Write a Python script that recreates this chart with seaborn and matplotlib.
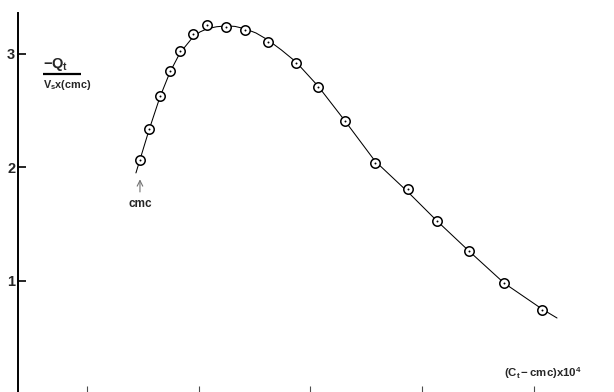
import matplotlib
matplotlib.use("Agg")
import matplotlib.pyplot as plt
import seaborn as sns
import pandas as pd

# Measured points: heat of dilution per unit volume vs. excess concentration
conc = [1.474, 1.555, 1.653, 1.743, 1.832, 1.949, 2.074, 2.244, 2.414, 2.620,
        2.870, 3.067, 3.309, 3.577, 3.872, 4.132, 4.418, 4.732, 5.072]
heat = [2.066, 2.339, 2.630, 2.850, 3.026, 3.176, 3.256, 3.238, 3.211, 3.106,
        2.921, 2.709, 2.410, 2.040, 1.811, 1.529, 1.264, 0.982, 0.744]

# Hand-drawn smooth curve through the data
curve_x = [1.438, 1.555, 1.653, 1.743, 1.832, 1.949, 2.011, 2.074, 2.160, 2.244,
           2.324, 2.414, 2.512, 2.620, 2.740, 2.870, 3.067, 3.309, 3.577, 3.872,
           4.132, 4.418, 4.732, 5.072, 5.206]
curve_y = [1.952, 2.330, 2.621, 2.841, 3.009, 3.150, 3.194, 3.222, 3.240, 3.247,
           3.243, 3.222, 3.185, 3.123, 3.035, 2.930, 2.718, 2.410, 2.057, 1.784,
           1.529, 1.264, 0.982, 0.753, 0.674]

ytick_vals = [1, 2, 3]
ytick_labels = ["1", "2", "3"]
xtick_vals = [1, 2, 3, 4, 5]

sns.set_style("white")
plt.rcParams["font.family"] = ["Liberation Sans", "DejaVu Sans"]
plt.rcParams["mathtext.fontset"] = "custom"
plt.rcParams["mathtext.rm"] = "Liberation Sans:bold"
plt.rcParams["mathtext.it"] = "Liberation Sans:bold"
plt.rcParams["mathtext.bf"] = "Liberation Sans:bold"

fig = plt.figure(figsize=(6.14, 3.92), dpi=100)
ax = fig.add_axes([18 / 614, 0.0, 596 / 614, 379 / 392])

pts = pd.DataFrame({"conc": conc, "heat": heat})
line = pd.DataFrame({"x": curve_x, "y": curve_y})

sns.lineplot(data=line, x="x", y="y", sort=False, color="black", lw=0.75, ax=ax)
sns.scatterplot(data=pts, x="conc", y="heat", s=46, facecolor="white",
                edgecolor="black", linewidth=1.1, zorder=3, ax=ax)
sns.scatterplot(data=pts, x="conc", y="heat", s=2, color="black",
                linewidth=0, zorder=4, ax=ax)

ax.set_xlim(0.3826, 5.716)
ax.set_ylim(0.022, 3.361)

for side in ["top", "right", "bottom"]:
    ax.spines[side].set_visible(False)
ax.spines["left"].set_color("black")
ax.spines["left"].set_linewidth(1.4)

ax.set_yticks(ytick_vals)
ax.set_yticklabels(ytick_labels, fontsize=10.5, fontweight="bold")
ax.set_xticks(xtick_vals)
ax.set_xticklabels([])
ax.tick_params(axis="y", direction="in", length=6, width=1.2, pad=2,
               left=True, color="black")
ax.tick_params(axis="x", direction="in", length=4, width=0.8, bottom=True,
               color="0.3")
ax.set_xlabel("")
ax.set_ylabel("")

# Y quantity written as a stacked fraction inside the plot
ax.text(0.606, 2.903, r"$-Q_t$", fontsize=10.5, ha="left", va="center")
ax.plot([0.606, 0.946], [2.824, 2.824], color="black", lw=1.6,
        solid_capstyle="butt")
ax.text(0.606, 2.731, r"$V_s x(cmc)$", fontsize=7.8, ha="left", va="center")

# Axis quantity at lower right
ax.text(4.731, 0.189, r"$(C_t-cmc)x10^4$", fontsize=8.2,
        ha="left", va="center")

# Marker for the critical micelle concentration
ax.annotate("", xy=(1.474, 1.92), xytext=(1.474, 1.76),
            arrowprops=dict(arrowstyle="->", color="0.45", lw=0.8))
ax.text(1.474, 1.68, "cmc", fontsize=8.5, fontweight="bold",
        ha="center", va="center")

fig.savefig("out.png", dpi=100)
